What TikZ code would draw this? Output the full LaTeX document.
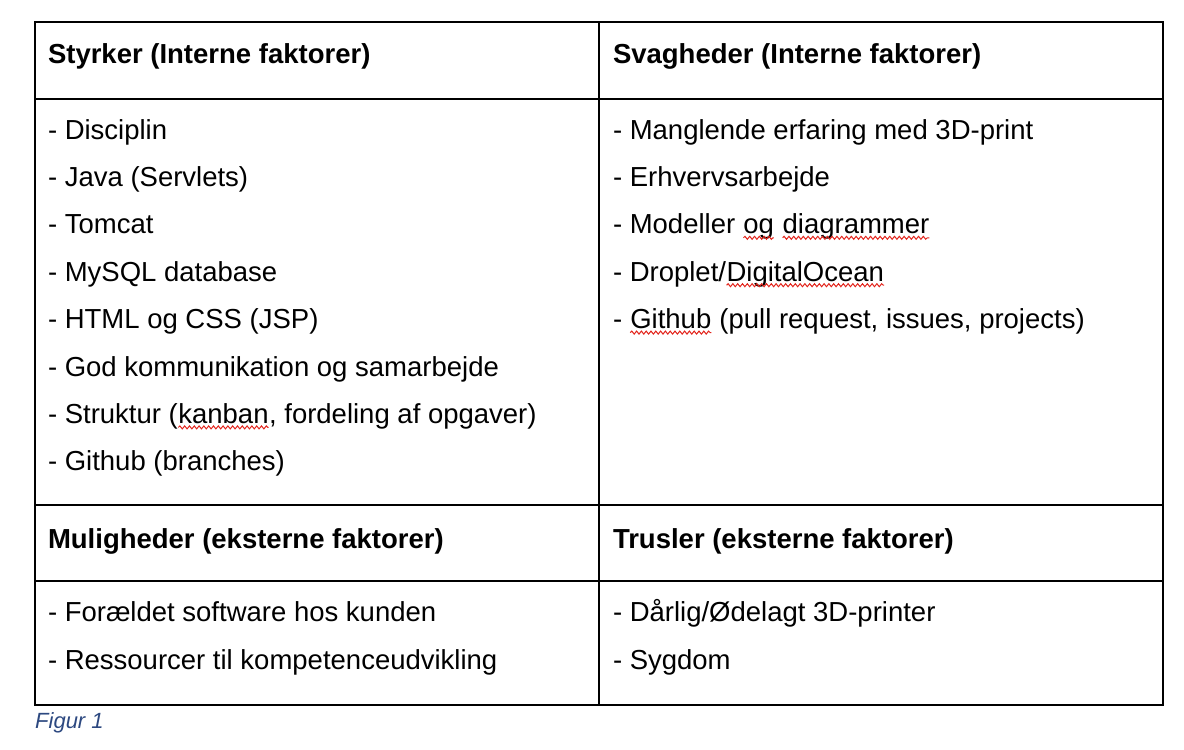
\documentclass[tikz,border=0pt]{standalone}
\usepackage{fontspec}
\setmainfont{Liberation Sans}
\usetikzlibrary{decorations.pathmorphing}
\definecolor{capblue}{RGB}{44,72,128}
\definecolor{squigred}{RGB}{226,36,28}
\newcommand{\squig}[1]{\tikz[baseline=(sq.base)]{\node[inner sep=0pt,outer sep=0pt,anchor=base] (sq) {#1};\draw[squigred,line width=1pt,decorate,decoration={snake,amplitude=1.5pt,segment length=4.8pt}] ([yshift=-4pt]sq.base west) -- ([yshift=-4pt]sq.base east);}}
\tikzset{
  grid/.style={line width=1.6pt, black},
  txt/.style={anchor=base west, inner sep=0pt, outer sep=0pt, font=\fontsize{27.5}{32}\selectfont},
  head/.style={txt, font=\fontsize{27.5}{32}\selectfont\bfseries},
  figcaption/.style={anchor=base west, inner sep=0pt, font=\fontsize{22}{26}\selectfont\itshape, text=capblue}
}
\begin{document}
\begin{tikzpicture}[x=1pt,y=-1pt]
\useasboundingbox (0,0) rectangle (1184,750);
% table frame
\coordinate (tl) at (35,22);
\coordinate (br) at (1163,705);
\draw[grid] (tl) rectangle (br);
\coordinate (h1l) at (35,99);  \coordinate (h1r) at (1163,99);
\coordinate (r2l) at (35,505); \coordinate (r2r) at (1163,505);
\coordinate (h2l) at (35,581); \coordinate (h2r) at (1163,581);
\coordinate (vt) at (599,22);  \coordinate (vb) at (599,705);
\draw[grid] (h1l) -- (h1r);
\draw[grid] (r2l) -- (r2r);
\draw[grid] (h2l) -- (h2r);
\draw[grid] (vt) -- (vb);
% headers
\node[head] (hS) at (48,63) {Styrker (Interne faktorer)};
\node[head] (hW) at (613,63) {Svagheder (Interne faktorer)};
\node[head] (hO) at (48,548) {Muligheder (eksterne faktorer)};
\node[head] (hT) at (613,548) {Trusler (eksterne faktorer)};
% strengths
\node[txt] (s1) at (48,139) {- Disciplin};
\node[txt] (s2) at (48,186.4) {- Java (Servlets)};
\node[txt] (s3) at (48,233.8) {- Tomcat};
\node[txt] (s4) at (48,281.2) {- MySQL database};
\node[txt] (s5) at (48,328.6) {- HTML og CSS (JSP)};
\node[txt] (s6) at (48,376) {- God kommunikation og samarbejde};
\node[txt] (s7) at (48,423.4) {- Struktur (\squig{kanban}, fordeling af opgaver)};
\node[txt] (s8) at (48,470.8) {- Github (branches)};
% weaknesses
\node[txt] (w1) at (613,139) {- Manglende erfaring med 3D-print};
\node[txt] (w2) at (613,186.4) {- Erhvervsarbejde};
\node[txt] (w3) at (613,233.8) {- Modeller \squig{og} \squig{diagrammer}};
\node[txt] (w4) at (613,281.2) {- Droplet/\squig{DigitalOcean}};
\node[txt] (w5) at (613,328.6) {- \squig{Github} (pull request, issues, projects)};
% opportunities
\node[txt] (o1) at (48,621) {- Forældet software hos kunden};
\node[txt] (o2) at (48,669) {- Ressourcer til kompetenceudvikling};
% threats
\node[txt] (t1) at (613,621) {- Dårlig/Ødelagt 3D-printer};
\node[txt] (t2) at (613,669) {- Sygdom};
% caption
\node[figcaption] (fig) at (35,728) {Figur 1};
\end{tikzpicture}
\end{document}
